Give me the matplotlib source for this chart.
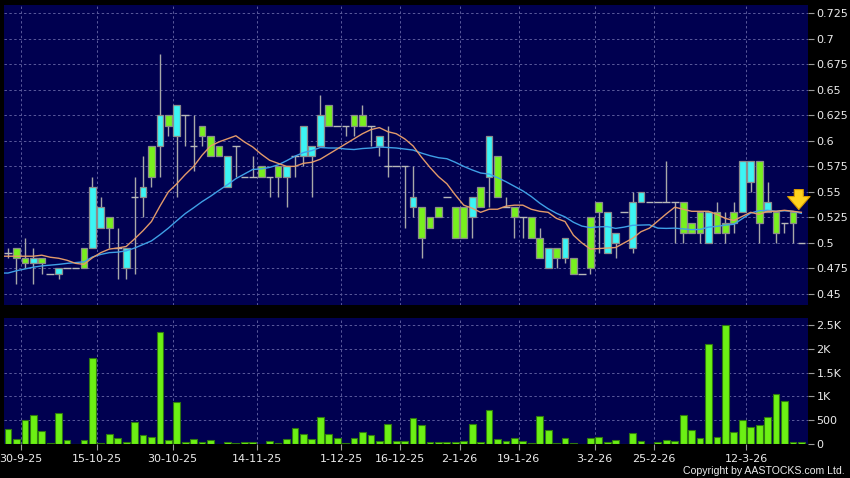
import matplotlib
matplotlib.use("Agg")
import matplotlib.pyplot as plt
import numpy as np
import pandas as pd
from matplotlib.patches import Rectangle

# ---------------- data ----------------
opens = [0.49, 0.495, 0.485, 0.48, 0.485, 0.47, 0.47, 0.475, 0.475, 0.495,
         0.495, 0.515, 0.525, 0.495, 0.475, 0.545, 0.545, 0.595, 0.595, 0.625,
         0.605, 0.625, 0.595, 0.615, 0.605, 0.595, 0.555, 0.595, 0.565, 0.565,
         0.575, 0.565, 0.575, 0.565, 0.585, 0.585, 0.585, 0.595, 0.635, 0.615,
         0.615, 0.625, 0.625, 0.615, 0.595, 0.575, 0.575, 0.575, 0.535, 0.535,
         0.525, 0.535, 0.545, 0.535, 0.535, 0.525, 0.555, 0.565, 0.585, 0.535,
         0.535, 0.525, 0.525, 0.505, 0.475, 0.495, 0.485, 0.485, 0.47, 0.525,
         0.54, 0.49, 0.50, 0.53, 0.495, 0.54, 0.54, 0.54, 0.54, 0.54,
         0.54, 0.52, 0.53, 0.50, 0.53, 0.52, 0.53, 0.53, 0.56, 0.58,
         0.53, 0.53, 0.52, 0.53, 0.50]
highs = [0.495, 0.495, 0.505, 0.495, 0.485, 0.47, 0.475, 0.475, 0.475, 0.495,
         0.565, 0.545, 0.525, 0.515, 0.495, 0.565, 0.585, 0.595, 0.685, 0.625,
         0.635, 0.625, 0.625, 0.615, 0.605, 0.595, 0.585, 0.595, 0.565, 0.585,
         0.575, 0.565, 0.575, 0.575, 0.585, 0.615, 0.595, 0.645, 0.635, 0.615,
         0.615, 0.625, 0.635, 0.615, 0.605, 0.615, 0.575, 0.575, 0.575, 0.535,
         0.525, 0.535, 0.545, 0.535, 0.535, 0.545, 0.555, 0.605, 0.585, 0.545,
         0.535, 0.525, 0.525, 0.515, 0.495, 0.495, 0.505, 0.485, 0.47, 0.525,
         0.54, 0.53, 0.51, 0.53, 0.55, 0.55, 0.54, 0.54, 0.58, 0.54,
         0.54, 0.52, 0.53, 0.53, 0.54, 0.53, 0.54, 0.58, 0.58, 0.58,
         0.56, 0.53, 0.52, 0.53, 0.50]
lows = [0.485, 0.46, 0.475, 0.46, 0.47, 0.47, 0.465, 0.475, 0.475, 0.475,
        0.495, 0.515, 0.495, 0.465, 0.465, 0.47, 0.525, 0.555, 0.565, 0.605,
        0.545, 0.595, 0.57, 0.595, 0.585, 0.585, 0.555, 0.565, 0.565, 0.565,
        0.565, 0.545, 0.545, 0.535, 0.565, 0.575, 0.545, 0.595, 0.615, 0.615,
        0.605, 0.605, 0.615, 0.595, 0.585, 0.565, 0.575, 0.515, 0.525, 0.485,
        0.515, 0.525, 0.545, 0.505, 0.505, 0.505, 0.535, 0.535, 0.545, 0.535,
        0.505, 0.505, 0.505, 0.485, 0.475, 0.475, 0.48, 0.47, 0.47, 0.47,
        0.49, 0.49, 0.485, 0.53, 0.49, 0.54, 0.54, 0.54, 0.54, 0.50,
        0.50, 0.51, 0.50, 0.50, 0.51, 0.50, 0.51, 0.53, 0.55, 0.50,
        0.53, 0.50, 0.51, 0.50, 0.50]
closes = [0.49, 0.485, 0.48, 0.485, 0.48, 0.47, 0.475, 0.475, 0.475, 0.475,
          0.555, 0.535, 0.515, 0.495, 0.495, 0.545, 0.555, 0.565, 0.625, 0.615,
          0.635, 0.625, 0.595, 0.605, 0.585, 0.585, 0.585, 0.595, 0.565, 0.565,
          0.565, 0.565, 0.565, 0.575, 0.585, 0.615, 0.595, 0.625, 0.615, 0.615,
          0.615, 0.615, 0.615, 0.615, 0.605, 0.575, 0.575, 0.575, 0.545, 0.505,
          0.515, 0.525, 0.545, 0.505, 0.505, 0.545, 0.535, 0.605, 0.545, 0.535,
          0.525, 0.525, 0.505, 0.485, 0.495, 0.485, 0.505, 0.47, 0.47, 0.475,
          0.53, 0.53, 0.51, 0.53, 0.54, 0.55, 0.54, 0.54, 0.54, 0.54,
          0.51, 0.51, 0.51, 0.53, 0.51, 0.51, 0.52, 0.58, 0.58, 0.52,
          0.54, 0.51, 0.52, 0.52, 0.50]
# closes of the sessions just before the visible window (warm-up for the averages)
pre_closes = [0.44, 0.445, 0.45, 0.455, 0.455, 0.46, 0.455, 0.46, 0.46, 0.46,
              0.485, 0.48, 0.485, 0.47, 0.49, 0.485, 0.495, 0.505, 0.485]
volumes = [312, 111, 507, 618, 264, 20, 652, 90, 5, 83,
           1811, 28, 215, 132, 42, 465, 187, 139, 2360, 90,
           881, 49, 104, 42, 90, 5, 42, 14, 35, 42,
           5, 62, 14, 104, 340, 215, 111, 562, 215, 125,
           21, 132, 250, 194, 69, 416, 62, 62, 555, 392,
           42, 42, 35, 42, 70, 415, 42, 704, 113, 70,
           134, 63, 21, 591, 303, 21, 120, 28, 0, 134,
           141, 49, 77, 0, 239, 63, 0, 49, 92, 70,
           605, 296, 127, 2091, 148, 2492, 260, 507, 366, 401,
           577, 1042, 901, 35, 49]
date_labels = ["30-9-25", "15-10-25", "30-10-25", "14-11-25", "1-12-25", "16-12-25",
               "2-1-26", "19-1-26", "3-2-26", "25-2-26", "12-3-26"]
date_label_idx = [1, 10, 19, 29, 39, 46, 53, 60, 69, 76, 87]
price_ticks = [0.45, 0.475, 0.5, 0.525, 0.55, 0.575, 0.6, 0.625, 0.65, 0.675, 0.7, 0.725]
vol_ticks = [0, 500, 1000, 1500, 2000, 2500]
vol_tick_labels = ["0", "500", "1K", "1.5K", "2K", "2.5K"]

# ---------------- styling ----------------
BG = "#000050"
GRID = "#5a5a9c"
CYAN = "#3cf4f4"
GREEN = "#78f01e"
EDGE = "#8c8c8c"
WICK = "#a8a8a8"
MA10_C = "#e39a6a"
MA20_C = "#3fa0e6"
VOL_C = "#6cf014"
VOL_E = "#2f7a10"
TXT = "#ececec"

W, H = 850, 478
fig = plt.figure(figsize=(W / 100, H / 100), dpi=100, facecolor="black")
ax = fig.add_axes([4 / W, (H - 305) / H, 804 / W, 300 / H], facecolor=BG)
axv = fig.add_axes([4 / W, (H - 444) / H, 804 / W, 126 / H], facecolor=BG)

n = len(closes)
x = np.arange(n)
xlim = (-0.474, 94.79)

# candles
bw = 0.8
for i in range(n):
    o, h, l, c = opens[i], highs[i], lows[i], closes[i]
    ax.vlines(i, l, h, color=WICK, lw=1.0, zorder=2)
    if c > o:
        ax.add_patch(Rectangle((i - bw / 2, o), bw, c - o, fc=CYAN, ec=EDGE, lw=0.9, zorder=3))
    elif c < o:
        ax.add_patch(Rectangle((i - bw / 2, c), bw, o - c, fc=GREEN, ec=EDGE, lw=0.9, zorder=3))
    else:
        ax.hlines(c, i - 0.45, i + 0.45, color="#b8b8b8", lw=1.0, zorder=3)

# moving averages
all_c = pd.Series(pre_closes + closes)
ma10 = all_c.rolling(10).mean().to_numpy()[len(pre_closes):]
ma20 = all_c.rolling(20).mean().to_numpy()[len(pre_closes):]
ax.plot(np.concatenate([[xlim[0]], x]), np.concatenate([[ma20[0]], ma20]), color=MA20_C, lw=1.0, zorder=4)
ax.plot(np.concatenate([[xlim[0]], x]), np.concatenate([[ma10[0]], ma10]), color=MA10_C, lw=1.0, zorder=4)

# marker arrow over the latest session
ax_x = n - 1.3
tip = max(highs[-2:])
ax.annotate("", xy=(ax_x, tip), xytext=(ax_x, tip + 0.025),
            arrowprops=dict(arrowstyle="simple,head_length=0.55,head_width=0.95,tail_width=0.38",
                            fc="#ffd21e", ec="#d99a00", lw=0.8, mutation_scale=17),
            zorder=6)

# volume
axv.bar(x, volumes, width=0.8, color=VOL_C, edgecolor=VOL_E, lw=0.8, zorder=3)

grid_x = [i + 0.5 for i in date_label_idx]
for a in (ax, axv):
    a.set_xlim(*xlim)
    for s in a.spines.values():
        s.set_visible(False)
    a.yaxis.tick_right()
    a.tick_params(axis="y", colors=TXT, labelsize=8, length=4, width=0.8, pad=2, labelcolor=TXT)
    a.tick_params(axis="y", which="both", color="#9a9a9a")
    for gx in grid_x:
        a.axvline(gx, color=GRID, lw=0.7, ls=(0, (2.5, 2.5)), zorder=1)

ax.set_ylim(0.4392, 0.7331)
ax.set_yticks(price_ticks)
ax.set_yticklabels([f"{t:g}" for t in price_ticks])
ax.set_xticks([])
for t in price_ticks:
    ax.axhline(t, color=GRID, lw=0.7, ls=(0, (2.5, 2.5)), zorder=1)

axv.set_ylim(0, 2647)
axv.set_yticks(vol_ticks)
axv.set_yticklabels(vol_tick_labels)
for t in vol_ticks[1:]:
    axv.axhline(t, color=GRID, lw=0.7, ls=(0, (2.5, 2.5)), zorder=1)
axv.set_xticks(grid_x)
axv.set_xticklabels(date_labels)
axv.tick_params(axis="x", colors="#9a9a9a", labelcolor=TXT, labelsize=8, length=4, width=0.8, pad=3)

fig.text(845 / W, 1 - 471 / H, "Copyright by AASTOCKS.com Ltd.", color=TXT, fontsize=7.6,
         family=["Liberation Sans", "DejaVu Sans"], ha="right", va="center")

fig.savefig("out.png", dpi=100, facecolor="black")
